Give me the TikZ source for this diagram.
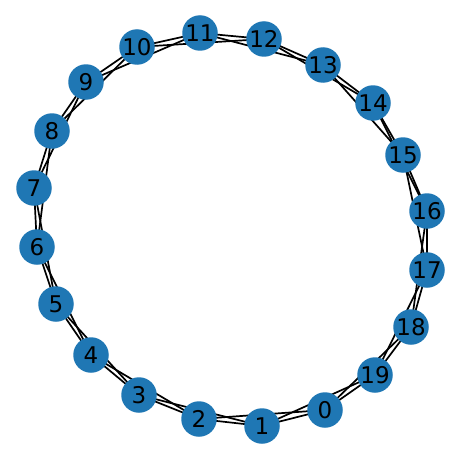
\documentclass[tikz,border=0pt]{standalone}
\usepackage{fontspec}
\setmainfont{DejaVu Sans}
\usetikzlibrary{backgrounds}
\definecolor{nodeblue}{HTML}{1F77B4}
\tikzstyle{vertex} = [circle,fill=nodeblue,minimum size=35.5pt,inner sep=0pt,font=\fontsize{23}{23}\selectfont]
\tikzstyle{edge} = [line width=1.7pt,black]

\begin{document}
\begin{tikzpicture}[x=1pt,y=-1pt]
	\useasboundingbox (0,0) rectangle (460,460);
	
	% Vertices:
	% Placed at the pixel positions of the layout, numbered round the ring
	\foreach \n/\x/\y in {0/325/410, 1/262/426, 2/199/419, 3/139/395, 4/91/355,
		5/56/304, 6/37/247, 7/34/188, 8/52/131, 9/86/82,
		10/137/47, 11/200/33, 12/264/39, 13/323/65, 14/373/103,
		15/403/155, 16/427/211, 17/427/270, 18/411/327, 19/375/375}
	{
		\node[vertex] (v\n) at (\x,\y) {\n};
	}
	
	% Edges:
	% Each vertex joins the next one and the one after it, drawn under the vertices
	\begin{pgfonlayer}{background}
		\foreach \n in {0,...,19}
		{
			\pgfmathtruncatemacro{\a}{mod(\n+1,20)}
			\pgfmathtruncatemacro{\b}{mod(\n+2,20)}
			\draw[edge] (v\n.center) -- (v\a.center);
			\draw[edge] (v\n.center) -- (v\b.center);
		}
	\end{pgfonlayer}
	
\end{tikzpicture}
\end{document}
